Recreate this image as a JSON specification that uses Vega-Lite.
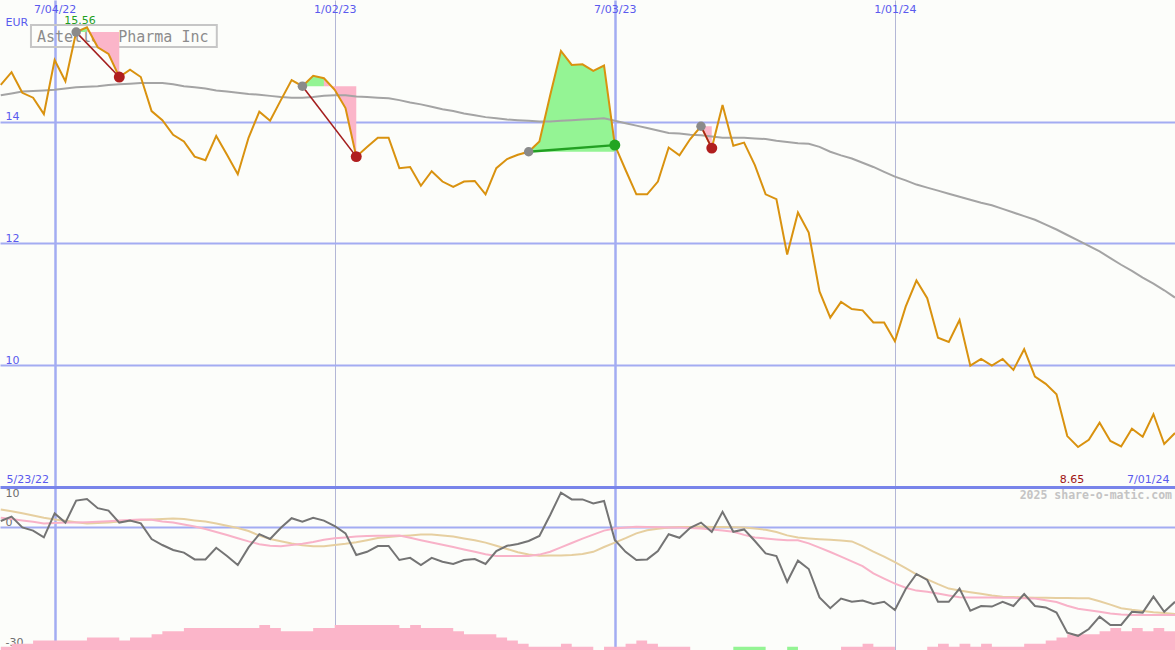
{
"$schema":"https://vega.github.io/schema/vega-lite/v6.json",
"padding":0,
"background":"#fcfdfa",
"spacing":0,
"bounds":"flush",
"config":{"view":{"stroke":null},"axis":{"labelFont":"DejaVu Sans","labelFontSize":11,"titleFont":"DejaVu Sans"}},
"datasets":{
"w":[
{"date":"2022-05-30","price":14.61,"ma":14.44,"osc":1.5,"sig":2.3,"slow":4.4,"bear":1,"bull":0},
{"date":"2022-06-06","price":14.82,"ma":14.47,"osc":2.6,"sig":2.0,"slow":3.95,"bear":2,"bull":0},
{"date":"2022-06-13","price":14.48,"ma":14.50,"osc":-0.1,"sig":1.65,"slow":3.45,"bear":2,"bull":0},
{"date":"2022-06-20","price":14.40,"ma":14.51,"osc":-0.9,"sig":1.3,"slow":2.9,"bear":3,"bull":0},
{"date":"2022-06-27","price":14.13,"ma":14.52,"osc":-2.6,"sig":0.9,"slow":2.3,"bear":3,"bull":0},
{"date":"2022-07-04","price":15.02,"ma":14.53,"osc":3.4,"sig":1.0,"slow":1.9,"bear":3,"bull":0},
{"date":"2022-07-11","price":14.67,"ma":14.55,"osc":1.1,"sig":1.1,"slow":1.55,"bear":3,"bull":0},
{"date":"2022-07-18","price":15.48,"ma":14.57,"osc":6.6,"sig":1.15,"slow":1.2,"bear":3,"bull":0},
{"date":"2022-07-25","price":15.56,"ma":14.58,"osc":7.0,"sig":1.2,"slow":0.9,"bear":4,"bull":0},
{"date":"2022-08-01","price":15.23,"ma":14.59,"osc":4.7,"sig":1.3,"slow":1.0,"bear":4,"bull":0},
{"date":"2022-08-08","price":15.12,"ma":14.61,"osc":4.1,"sig":1.45,"slow":1.1,"bear":4,"bull":0},
{"date":"2022-08-15","price":14.74,"ma":14.62,"osc":1.1,"sig":1.6,"slow":1.4,"bear":3,"bull":0},
{"date":"2022-08-22","price":14.86,"ma":14.63,"osc":1.6,"sig":1.75,"slow":1.5,"bear":4,"bull":0},
{"date":"2022-08-29","price":14.74,"ma":14.64,"osc":0.9,"sig":1.9,"slow":1.75,"bear":4,"bull":0},
{"date":"2022-09-05","price":14.18,"ma":14.64,"osc":-3.0,"sig":1.8,"slow":1.9,"bear":5,"bull":0},
{"date":"2022-09-12","price":14.03,"ma":14.64,"osc":-4.5,"sig":1.4,"slow":2.0,"bear":6,"bull":0},
{"date":"2022-09-19","price":13.79,"ma":14.62,"osc":-5.75,"sig":1.1,"slow":2.1,"bear":6,"bull":0},
{"date":"2022-09-26","price":13.68,"ma":14.59,"osc":-6.4,"sig":0.6,"slow":2.0,"bear":7,"bull":0},
{"date":"2022-10-03","price":13.43,"ma":14.57,"osc":-8.1,"sig":0.1,"slow":1.65,"bear":7,"bull":0},
{"date":"2022-10-10","price":13.37,"ma":14.55,"osc":-8.1,"sig":-0.5,"slow":1.35,"bear":7,"bull":0},
{"date":"2022-10-17","price":13.77,"ma":14.52,"osc":-5.2,"sig":-1.25,"slow":0.9,"bear":7,"bull":0},
{"date":"2022-10-24","price":13.46,"ma":14.50,"osc":-7.25,"sig":-2.0,"slow":0.3,"bear":7,"bull":0},
{"date":"2022-10-31","price":13.14,"ma":14.48,"osc":-9.5,"sig":-2.8,"slow":-0.25,"bear":7,"bull":0},
{"date":"2022-11-07","price":13.74,"ma":14.46,"osc":-5.1,"sig":-3.6,"slow":-1.0,"bear":7,"bull":0},
{"date":"2022-11-14","price":14.17,"ma":14.45,"osc":-1.8,"sig":-4.3,"slow":-2.15,"bear":8,"bull":0},
{"date":"2022-11-21","price":14.02,"ma":14.43,"osc":-3.0,"sig":-4.7,"slow":-3.0,"bear":7,"bull":0},
{"date":"2022-11-28","price":14.36,"ma":14.41,"osc":-0.2,"sig":-4.8,"slow":-3.55,"bear":6,"bull":0},
{"date":"2022-12-05","price":14.69,"ma":14.40,"osc":2.2,"sig":-4.5,"slow":-4.1,"bear":6,"bull":0},
{"date":"2022-12-12","price":14.59,"ma":14.40,"osc":1.3,"sig":-4.2,"slow":-4.55,"bear":6,"bull":0},
{"date":"2022-12-19","price":14.76,"ma":14.41,"osc":2.3,"sig":-3.75,"slow":-4.8,"bear":7,"bull":0},
{"date":"2022-12-26","price":14.72,"ma":14.43,"osc":1.6,"sig":-3.2,"slow":-4.8,"bear":7,"bull":0},
{"date":"2023-01-02","price":14.53,"ma":14.44,"osc":0.25,"sig":-2.8,"slow":-4.5,"bear":8,"bull":0},
{"date":"2023-01-09","price":14.23,"ma":14.44,"osc":-1.6,"sig":-2.6,"slow":-4.2,"bear":8,"bull":0},
{"date":"2023-01-16","price":13.43,"ma":14.42,"osc":-7.0,"sig":-2.4,"slow":-3.8,"bear":8,"bull":0},
{"date":"2023-01-23","price":13.59,"ma":14.41,"osc":-6.2,"sig":-2.25,"slow":-3.3,"bear":8,"bull":0},
{"date":"2023-01-30","price":13.74,"ma":14.40,"osc":-4.75,"sig":-2.2,"slow":-2.75,"bear":8,"bull":0},
{"date":"2023-02-06","price":13.74,"ma":14.39,"osc":-4.75,"sig":-2.2,"slow":-2.5,"bear":8,"bull":0},
{"date":"2023-02-13","price":13.24,"ma":14.36,"osc":-8.25,"sig":-2.1,"slow":-2.25,"bear":7,"bull":0},
{"date":"2023-02-20","price":13.26,"ma":14.32,"osc":-7.7,"sig":-2.7,"slow":-2.1,"bear":8,"bull":0},
{"date":"2023-02-27","price":12.95,"ma":14.29,"osc":-9.5,"sig":-3.3,"slow":-1.9,"bear":7,"bull":0},
{"date":"2023-03-06","price":13.19,"ma":14.25,"osc":-7.7,"sig":-3.85,"slow":-1.9,"bear":7,"bull":0},
{"date":"2023-03-13","price":13.02,"ma":14.21,"osc":-8.7,"sig":-4.45,"slow":-2.1,"bear":7,"bull":0},
{"date":"2023-03-20","price":12.93,"ma":14.18,"osc":-9.25,"sig":-5.0,"slow":-2.4,"bear":6,"bull":0},
{"date":"2023-03-27","price":13.02,"ma":14.14,"osc":-8.25,"sig":-5.6,"slow":-2.85,"bear":5,"bull":0},
{"date":"2023-04-03","price":13.03,"ma":14.11,"osc":-8.0,"sig":-6.2,"slow":-3.3,"bear":5,"bull":0},
{"date":"2023-04-10","price":12.81,"ma":14.08,"osc":-9.25,"sig":-6.8,"slow":-3.9,"bear":5,"bull":0},
{"date":"2023-04-17","price":13.24,"ma":14.06,"osc":-6.0,"sig":-7.25,"slow":-4.7,"bear":4,"bull":0},
{"date":"2023-04-24","price":13.39,"ma":14.04,"osc":-4.7,"sig":-7.25,"slow":-5.5,"bear":3,"bull":0},
{"date":"2023-05-01","price":13.46,"ma":14.03,"osc":-4.25,"sig":-7.25,"slow":-6.3,"bear":2,"bull":0},
{"date":"2023-05-08","price":13.51,"ma":14.02,"osc":-3.5,"sig":-7.25,"slow":-6.9,"bear":1,"bull":0},
{"date":"2023-05-15","price":13.68,"ma":14.01,"osc":-2.25,"sig":-6.9,"slow":-7.2,"bear":1,"bull":0},
{"date":"2023-05-22","price":14.44,"ma":14.01,"osc":3.0,"sig":-6.2,"slow":-7.15,"bear":1,"bull":0},
{"date":"2023-05-29","price":15.17,"ma":14.02,"osc":8.6,"sig":-5.1,"slow":-7.1,"bear":2,"bull":0},
{"date":"2023-06-05","price":14.94,"ma":14.03,"osc":6.9,"sig":-4.0,"slow":-7.0,"bear":1,"bull":0},
{"date":"2023-06-12","price":14.95,"ma":14.04,"osc":6.9,"sig":-2.9,"slow":-6.75,"bear":1,"bull":0},
{"date":"2023-06-19","price":14.84,"ma":14.05,"osc":5.9,"sig":-1.9,"slow":-6.2,"bear":0,"bull":0},
{"date":"2023-06-26","price":14.93,"ma":14.06,"osc":6.5,"sig":-0.9,"slow":-5.0,"bear":1,"bull":0},
{"date":"2023-07-03","price":13.62,"ma":14.02,"osc":-3.25,"sig":-0.4,"slow":-3.9,"bear":1,"bull":0},
{"date":"2023-07-10","price":13.21,"ma":13.98,"osc":-6.2,"sig":-0.1,"slow":-2.8,"bear":2,"bull":0},
{"date":"2023-07-17","price":12.81,"ma":13.94,"osc":-8.25,"sig":0.05,"slow":-1.6,"bear":3,"bull":0},
{"date":"2023-07-24","price":12.81,"ma":13.90,"osc":-8.1,"sig":0.0,"slow":-0.8,"bear":2,"bull":0},
{"date":"2023-07-31","price":13.02,"ma":13.86,"osc":-6.0,"sig":-0.05,"slow":-0.45,"bear":1,"bull":0},
{"date":"2023-08-07","price":13.58,"ma":13.82,"osc":-1.8,"sig":-0.1,"slow":-0.1,"bear":1,"bull":0},
{"date":"2023-08-14","price":13.45,"ma":13.81,"osc":-2.7,"sig":-0.15,"slow":0.0,"bear":1,"bull":0},
{"date":"2023-08-21","price":13.72,"ma":13.79,"osc":-0.2,"sig":-0.25,"slow":0.0,"bear":0,"bull":0},
{"date":"2023-08-28","price":13.93,"ma":13.78,"osc":1.1,"sig":-0.35,"slow":0.1,"bear":0,"bull":0},
{"date":"2023-09-04","price":13.57,"ma":13.76,"osc":-1.25,"sig":-0.6,"slow":0.0,"bear":0,"bull":0},
{"date":"2023-09-11","price":14.28,"ma":13.74,"osc":3.8,"sig":-0.9,"slow":0.0,"bear":0,"bull":0},
{"date":"2023-09-18","price":13.61,"ma":13.74,"osc":-1.2,"sig":-1.2,"slow":-0.05,"bear":0,"bull":1},
{"date":"2023-09-25","price":13.66,"ma":13.74,"osc":-0.6,"sig":-1.97,"slow":-0.1,"bear":0,"bull":1},
{"date":"2023-10-02","price":13.29,"ma":13.73,"osc":-3.5,"sig":-2.6,"slow":-0.4,"bear":0,"bull":1},
{"date":"2023-10-09","price":12.81,"ma":13.72,"osc":-6.6,"sig":-2.85,"slow":-0.7,"bear":0,"bull":0},
{"date":"2023-10-16","price":12.73,"ma":13.69,"osc":-7.25,"sig":-3.1,"slow":-1.25,"bear":0,"bull":0},
{"date":"2023-10-23","price":11.82,"ma":13.67,"osc":-13.7,"sig":-3.3,"slow":-2.1,"bear":0,"bull":1},
{"date":"2023-10-30","price":12.51,"ma":13.65,"osc":-8.4,"sig":-3.3,"slow":-2.65,"bear":0,"bull":0},
{"date":"2023-11-06","price":12.18,"ma":13.64,"osc":-10.5,"sig":-4.1,"slow":-2.85,"bear":0,"bull":0},
{"date":"2023-11-13","price":11.21,"ma":13.59,"osc":-17.6,"sig":-5.15,"slow":-3.05,"bear":0,"bull":0},
{"date":"2023-11-20","price":10.78,"ma":13.51,"osc":-20.3,"sig":-6.25,"slow":-3.2,"bear":0,"bull":0},
{"date":"2023-11-27","price":11.04,"ma":13.45,"osc":-17.9,"sig":-7.4,"slow":-3.4,"bear":1,"bull":0},
{"date":"2023-12-04","price":10.92,"ma":13.40,"osc":-18.7,"sig":-8.6,"slow":-3.6,"bear":1,"bull":0},
{"date":"2023-12-11","price":10.90,"ma":13.33,"osc":-18.4,"sig":-9.8,"slow":-4.8,"bear":2,"bull":0},
{"date":"2023-12-18","price":10.70,"ma":13.26,"osc":-19.25,"sig":-11.6,"slow":-6.15,"bear":1,"bull":0},
{"date":"2023-12-25","price":10.70,"ma":13.18,"osc":-18.7,"sig":-12.9,"slow":-7.4,"bear":1,"bull":0},
{"date":"2024-01-01","price":10.39,"ma":13.10,"osc":-20.75,"sig":-14.15,"slow":-8.8,"bear":0,"bull":0},
{"date":"2024-01-08","price":10.96,"ma":13.04,"osc":-15.5,"sig":-15.2,"slow":-10.3,"bear":0,"bull":0},
{"date":"2024-01-15","price":11.39,"ma":12.97,"osc":-11.75,"sig":-15.9,"slow":-11.85,"bear":0,"bull":0},
{"date":"2024-01-22","price":11.10,"ma":12.92,"osc":-13.25,"sig":-16.2,"slow":-13.1,"bear":1,"bull":0},
{"date":"2024-01-29","price":10.45,"ma":12.87,"osc":-18.7,"sig":-16.6,"slow":-14.3,"bear":2,"bull":0},
{"date":"2024-02-05","price":10.38,"ma":12.82,"osc":-18.7,"sig":-17.1,"slow":-15.4,"bear":1,"bull":0},
{"date":"2024-02-12","price":10.74,"ma":12.77,"osc":-15.4,"sig":-17.55,"slow":-15.85,"bear":2,"bull":0},
{"date":"2024-02-19","price":9.99,"ma":12.72,"osc":-20.9,"sig":-17.6,"slow":-16.3,"bear":1,"bull":0},
{"date":"2024-02-26","price":10.10,"ma":12.67,"osc":-19.75,"sig":-17.6,"slow":-16.7,"bear":2,"bull":0},
{"date":"2024-03-04","price":9.99,"ma":12.63,"osc":-19.9,"sig":-17.65,"slow":-17.15,"bear":1,"bull":0},
{"date":"2024-03-11","price":10.10,"ma":12.57,"osc":-18.7,"sig":-17.7,"slow":-17.45,"bear":1,"bull":0},
{"date":"2024-03-18","price":9.92,"ma":12.51,"osc":-19.75,"sig":-17.7,"slow":-17.5,"bear":1,"bull":0},
{"date":"2024-03-25","price":10.26,"ma":12.45,"osc":-16.75,"sig":-17.8,"slow":-17.6,"bear":2,"bull":0},
{"date":"2024-04-01","price":9.81,"ma":12.39,"osc":-19.75,"sig":-17.9,"slow":-17.7,"bear":2,"bull":0},
{"date":"2024-04-08","price":9.69,"ma":12.31,"osc":-20.1,"sig":-18.3,"slow":-17.7,"bear":3,"bull":0},
{"date":"2024-04-15","price":9.52,"ma":12.23,"osc":-21.4,"sig":-18.75,"slow":-17.75,"bear":4,"bull":0},
{"date":"2024-04-22","price":8.83,"ma":12.14,"osc":-26.4,"sig":-19.7,"slow":-17.75,"bear":5,"bull":0},
{"date":"2024-04-29","price":8.65,"ma":12.05,"osc":-27.2,"sig":-20.45,"slow":-17.8,"bear":5,"bull":0},
{"date":"2024-05-06","price":8.77,"ma":11.96,"osc":-25.5,"sig":-20.8,"slow":-17.8,"bear":5,"bull":0},
{"date":"2024-05-13","price":9.05,"ma":11.87,"osc":-22.4,"sig":-21.2,"slow":-18.55,"bear":6,"bull":0},
{"date":"2024-05-20","price":8.75,"ma":11.76,"osc":-24.5,"sig":-21.6,"slow":-19.4,"bear":7,"bull":0},
{"date":"2024-05-27","price":8.66,"ma":11.65,"osc":-24.5,"sig":-21.85,"slow":-20.3,"bear":6,"bull":0},
{"date":"2024-06-03","price":8.95,"ma":11.55,"osc":-21.2,"sig":-22.0,"slow":-20.7,"bear":7,"bull":0},
{"date":"2024-06-10","price":8.82,"ma":11.44,"osc":-21.4,"sig":-22.0,"slow":-21.0,"bear":6,"bull":0},
{"date":"2024-06-17","price":9.19,"ma":11.34,"osc":-17.4,"sig":-22.0,"slow":-21.3,"bear":7,"bull":0},
{"date":"2024-06-24","price":8.70,"ma":11.23,"osc":-21.2,"sig":-22.0,"slow":-21.5,"bear":6,"bull":0},
{"date":"2024-07-01","price":8.88,"ma":11.11,"osc":-18.7,"sig":-22.0,"slow":-21.75,"bear":6,"bull":0}
],
"bands":[
{"date":"2022-07-18","price":15.48,"base":15.48,"grp":"t1g","sign":"g"},
{"date":"2022-07-25","price":15.56,"base":15.48,"grp":"t1g","sign":"g"},
{"date":"2022-07-25","price":15.56,"base":15.48,"grp":"t1p","sign":"p"},
{"date":"2022-08-01","price":15.23,"base":15.48,"grp":"t1p","sign":"p"},
{"date":"2022-08-08","price":15.12,"base":15.48,"grp":"t1p","sign":"p"},
{"date":"2022-08-15","price":14.74,"base":15.48,"grp":"t1p","sign":"p"},
{"date":"2022-12-12","price":14.59,"base":14.59,"grp":"t2g","sign":"g"},
{"date":"2022-12-19","price":14.76,"base":14.59,"grp":"t2g","sign":"g"},
{"date":"2022-12-26","price":14.72,"base":14.59,"grp":"t2g","sign":"g"},
{"date":"2022-12-26","price":14.72,"base":14.59,"grp":"t2p","sign":"p"},
{"date":"2023-01-02","price":14.53,"base":14.59,"grp":"t2p","sign":"p"},
{"date":"2023-01-09","price":14.23,"base":14.59,"grp":"t2p","sign":"p"},
{"date":"2023-01-16","price":13.43,"base":14.59,"grp":"t2p","sign":"p"},
{"date":"2023-05-08","price":13.51,"base":13.51,"grp":"t3g","sign":"g"},
{"date":"2023-05-15","price":13.68,"base":13.51,"grp":"t3g","sign":"g"},
{"date":"2023-05-22","price":14.44,"base":13.51,"grp":"t3g","sign":"g"},
{"date":"2023-05-29","price":15.17,"base":13.51,"grp":"t3g","sign":"g"},
{"date":"2023-06-05","price":14.94,"base":13.51,"grp":"t3g","sign":"g"},
{"date":"2023-06-12","price":14.95,"base":13.51,"grp":"t3g","sign":"g"},
{"date":"2023-06-19","price":14.84,"base":13.51,"grp":"t3g","sign":"g"},
{"date":"2023-06-26","price":14.93,"base":13.51,"grp":"t3g","sign":"g"},
{"date":"2023-07-03","price":13.62,"base":13.51,"grp":"t3g","sign":"g"},
{"date":"2023-08-28","price":13.93,"base":13.93,"grp":"t4p","sign":"p"},
{"date":"2023-09-04","price":13.57,"base":13.93,"grp":"t4p","sign":"p"}
],
"trades":[
{"date":"2022-07-18","price":15.48,"trade":"t1","kind":"entry","result":"loss"},
{"date":"2022-08-15","price":14.74,"trade":"t1","kind":"exit","result":"loss"},
{"date":"2022-12-12","price":14.59,"trade":"t2","kind":"entry","result":"loss"},
{"date":"2023-01-16","price":13.43,"trade":"t2","kind":"exit","result":"loss"},
{"date":"2023-05-08","price":13.51,"trade":"t3","kind":"entry","result":"win"},
{"date":"2023-07-03","price":13.62,"trade":"t3","kind":"exit","result":"win"},
{"date":"2023-08-28","price":13.93,"trade":"t4","kind":"entry","result":"loss"},
{"date":"2023-09-04","price":13.57,"trade":"t4","kind":"exit","result":"loss"}
],
"ext":[
{"date":"2022-07-25","price":15.56,"label":"15.56","kind":"max"},
{"date":"2024-04-29","price":8.65,"label":"8.65","kind":"min"}
]
},
"vconcat":[
{
"width":1175,"height":487,
"layer":[
{"data":{"name":"w"},"mark":{"type":"line","color":"#d9920f","strokeWidth":2,"clip":true,"opacity":0},
 "encoding":{
  "x":{"field":"date","type":"temporal",
   "scale":{"type":"utc","domain":[{"year":2022,"month":5,"date":29,"hours":12,"utc":true},{"year":2024,"month":7,"date":1,"utc":true}],"nice":false},
   "axis":{"orient":"top","values":[{"year":2022,"month":7,"date":4,"utc":true},{"year":2023,"month":1,"date":2,"utc":true},{"year":2023,"month":7,"date":3,"utc":true},{"year":2024,"month":1,"date":1,"utc":true}],
    "format":"%-m/%d/%y","title":null,"domain":false,"ticks":false,"tickSize":0,"labelPadding":-3,"labelBaseline":"top","labelColor":"#5a5aee","labelFontSize":11,"labelOverlap":false,
    "grid":true,"gridColor":{"condition":{"test":"utcmonth(datum.value) == 6","value":"#a3acf2"},"value":"#b3b7d6"},"gridWidth":{"condition":{"test":"utcmonth(datum.value) == 6","value":2.5},"value":1}}},
  "y":{"field":"price","type":"quantitative","scale":{"domain":[7.992,16.008],"nice":false,"zero":false},
   "axis":{"orient":"left","values":[10,12,14],"labelExpr":"datum.value + ''","title":"EUR","titleAngle":0,"titleX":5,"titleY":25,"titleAlign":"left","titleBaseline":"alphabetic","titleColor":"#5a5aee","titleFontSize":11,"titleFontWeight":"normal",
    "domain":false,"ticks":false,"tickSize":0,"labelAlign":"left","labelBaseline":"bottom","labelPadding":-5,"labelColor":"#5a5aee","labelFontSize":11,
    "grid":true,"gridColor":"#a3acf2","gridWidth":2}}}},
{"data":{"values":[{}]},"mark":{"type":"rect","fill":"transparent","stroke":"#c6c6c6","strokeWidth":2},
 "encoding":{"x":{"datum":{"year":2022,"month":6,"date":18,"hours":15,"utc":true},"type":"temporal"},
 "x2":{"datum":{"year":2022,"month":10,"date":17,"hours":9,"utc":true}},
 "y":{"datum":15.597,"type":"quantitative"},"y2":{"datum":15.235}}},
{"data":{"values":[{}]},"mark":{"type":"text","align":"left","baseline":"alphabetic","font":"DejaVu Sans Mono","fontSize":15,"color":"#8c8c8c"},
 "encoding":{"x":{"datum":{"year":2022,"month":6,"date":22,"hours":12,"utc":true},"type":"temporal"},
 "y":{"datum":15.317,"type":"quantitative"},"text":{"value":"Astellas Pharma Inc"}}},
{"data":{"name":"bands"},"transform":[{"filter":"datum.sign == 'g'"}],"mark":{"type":"area","color":"#94f494","opacity":1},
 "encoding":{"x":{"field":"date","type":"temporal"},"y":{"field":"price","type":"quantitative"},"y2":{"field":"base"},"detail":{"field":"grp","type":"nominal"}}},
{"data":{"name":"bands"},"transform":[{"filter":"datum.sign == 'p'"}],"mark":{"type":"area","color":"#fbb5c9","opacity":1},
 "encoding":{"x":{"field":"date","type":"temporal"},"y":{"field":"price","type":"quantitative"},"y2":{"field":"base"},"detail":{"field":"grp","type":"nominal"}}},
{"data":{"name":"w"},"mark":{"type":"line","color":"#a4a4a4","strokeWidth":2,"clip":true},
 "encoding":{"x":{"field":"date","type":"temporal"},"y":{"field":"ma","type":"quantitative"}}},
{"data":{"name":"w"},"mark":{"type":"line","color":"#d9920f","strokeWidth":2,"clip":true},
 "encoding":{"x":{"field":"date","type":"temporal"},"y":{"field":"price","type":"quantitative"}}},
{"data":{"name":"trades"},"transform":[{"filter":"datum.result == 'loss'"}],"mark":{"type":"line","color":"#a41e1e","strokeWidth":1.6},
 "encoding":{"x":{"field":"date","type":"temporal"},"y":{"field":"price","type":"quantitative"},"detail":{"field":"trade","type":"nominal"}}},
{"data":{"name":"trades"},"transform":[{"filter":"datum.result == 'win'"}],"mark":{"type":"line","color":"#22a022","strokeWidth":2.4},
 "encoding":{"x":{"field":"date","type":"temporal"},"y":{"field":"price","type":"quantitative"},"detail":{"field":"trade","type":"nominal"}}},
{"data":{"name":"trades"},"transform":[{"filter":"datum.kind == 'entry'"}],"mark":{"type":"point","filled":true,"opacity":1,"size":90,"color":"#8a8a8a"},
 "encoding":{"x":{"field":"date","type":"temporal"},"y":{"field":"price","type":"quantitative"}}},
{"data":{"name":"trades"},"transform":[{"filter":"datum.kind == 'exit' && datum.result == 'loss'"}],"mark":{"type":"point","filled":true,"opacity":1,"size":120,"color":"#b01e1e"},
 "encoding":{"x":{"field":"date","type":"temporal"},"y":{"field":"price","type":"quantitative"}}},
{"data":{"name":"trades"},"transform":[{"filter":"datum.kind == 'exit' && datum.result == 'win'"}],"mark":{"type":"point","filled":true,"opacity":1,"size":120,"color":"#22a522"},
 "encoding":{"x":{"field":"date","type":"temporal"},"y":{"field":"price","type":"quantitative"}}},
{"data":{"name":"ext"},"transform":[{"filter":"datum.kind == 'max'"}],"mark":{"type":"text","align":"center","baseline":"alphabetic","dx":-7,"dy":-3,"font":"DejaVu Sans","fontSize":11,"color":"#1f9f1f"},
 "encoding":{"x":{"field":"date","type":"temporal"},"y":{"field":"price","type":"quantitative"},"text":{"field":"label"}}},
{"data":{"name":"ext"},"transform":[{"filter":"datum.kind == 'min'"}],"mark":{"type":"text","align":"center","baseline":"bottom","dx":-6,"dy":-2,"font":"DejaVu Sans","fontSize":11,"color":"#a01414"},
 "encoding":{"x":{"field":"date","type":"temporal"},"y":{"datum":7.992,"type":"quantitative"},"text":{"field":"label"}}}
]
},
{
"width":1175,"height":163,
"layer":[
{"layer":[
 {"data":{"name":"w"},"mark":{"type":"area","interpolate":"step-after","color":"#fbb5c9","clip":true},
  "encoding":{
   "x":{"field":"date","type":"temporal",
    "scale":{"type":"utc","domain":[{"year":2022,"month":5,"date":29,"hours":12,"utc":true},{"year":2024,"month":7,"date":1,"utc":true}],"nice":false},
    "axis":{"orient":"top","values":[{"year":2022,"month":5,"date":29,"hours":12,"utc":true},{"year":2024,"month":7,"date":1,"utc":true}],
     "format":"%-m/%d/%y","labelExpr":"datum.index == 0 ? '5/23/22' : datum.label","title":null,
     "domain":true,"domainColor":"#7884ea","domainWidth":3,"ticks":false,"tickSize":0,"labelPadding":3,"labelBaseline":"bottom","labelColor":"#5a5aee","labelFontSize":11,
     "labelFlush":5,"labelFlushOffset":-6,"labelOverlap":false,"grid":false}},
   "y":{"field":"bear","type":"quantitative","stack":null,"scale":{"domain":[0,52],"nice":false},"axis":null}}},
 {"data":{"name":"w"},"mark":{"type":"area","interpolate":"step-after","color":"#94f494","clip":true},
  "encoding":{"x":{"field":"date","type":"temporal"},"y":{"field":"bull","type":"quantitative","stack":null,"axis":null}}}
]},
{"layer":[
 {"data":{"name":"w"},"mark":{"type":"line","color":"#747474","strokeWidth":2,"clip":true,"opacity":0},
  "encoding":{
   "x":{"field":"date","type":"temporal",
    "scale":{"type":"utc","domain":[{"year":2022,"month":5,"date":29,"hours":12,"utc":true},{"year":2024,"month":7,"date":1,"utc":true}],"nice":false},
    "axis":{"orient":"bottom","values":[{"year":2022,"month":7,"date":4,"utc":true},{"year":2023,"month":1,"date":2,"utc":true},{"year":2023,"month":7,"date":3,"utc":true},{"year":2024,"month":1,"date":1,"utc":true}],
     "labels":false,"ticks":false,"domain":false,"title":null,"grid":true,
     "gridColor":{"condition":{"test":"utcmonth(datum.value) == 6","value":"#a3acf2"},"value":"#b3b7d6"},"gridWidth":{"condition":{"test":"utcmonth(datum.value) == 6","value":2.5},"value":1}}},
   "y":{"field":"osc","type":"quantitative","scale":{"domain":[-30.75,10],"nice":false,"zero":false},
    "axis":{"orient":"left","values":[-30,0,10],"labelExpr":"datum.value + ''","title":null,"domain":false,"ticks":false,"tickSize":0,"labelAlign":"left","labelPadding":-5,
     "labelBaseline":{"condition":{"test":"datum.value == 10","value":"top"},"value":"bottom"},"labelColor":"#6e6e6e","labelFontSize":11,
     "grid":true,"gridColor":"#a3acf2","gridWidth":2,"gridOpacity":{"condition":{"test":"datum.value == 0","value":1},"value":0}}}}},
 {"data":{"name":"w"},"mark":{"type":"line","color":"#e6cfa0","strokeWidth":2,"clip":true},
  "encoding":{"x":{"field":"date","type":"temporal"},"y":{"field":"slow","type":"quantitative"}}},
 {"data":{"name":"w"},"mark":{"type":"line","color":"#f8b2c8","strokeWidth":2,"clip":true},
  "encoding":{"x":{"field":"date","type":"temporal"},"y":{"field":"sig","type":"quantitative"}}},
 {"data":{"name":"w"},"mark":{"type":"line","color":"#747474","strokeWidth":2,"clip":true},
  "encoding":{"x":{"field":"date","type":"temporal"},"y":{"field":"osc","type":"quantitative"}}},
 {"data":{"values":[{}]},"mark":{"type":"text","align":"right","baseline":"top","dx":-3,"dy":3,"font":"DejaVu Sans Mono","fontSize":11.5,"fontWeight":"bold","color":"#c4c4c4"},
  "encoding":{"x":{"datum":{"year":2024,"month":7,"date":1,"utc":true},"type":"temporal"},"y":{"datum":10,"type":"quantitative"},"text":{"value":"2025 share-o-matic.com"}}}
]}
],
"resolve":{"scale":{"y":"independent"},"axis":{"x":"independent","y":"independent"}}
}
]
}
